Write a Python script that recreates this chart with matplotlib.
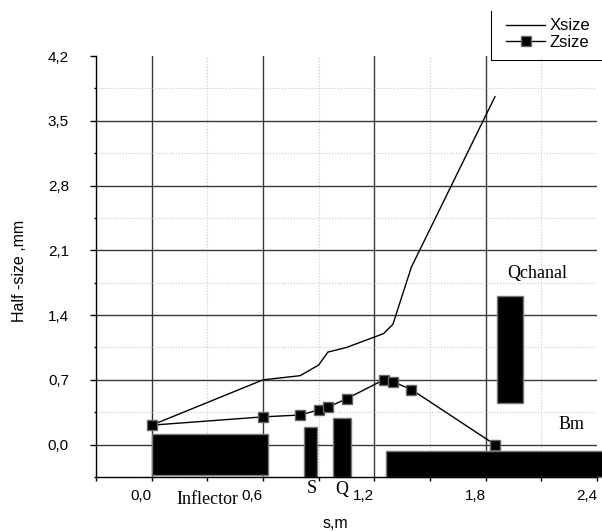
"""
Half-size of the beam along the channel with element layout
"""

import matplotlib.pyplot as plt
from matplotlib.lines import Line2D
from matplotlib.ticker import FixedLocator, FuncFormatter

# beam envelope
s = [0.0, 0.6, 0.8, 0.9, 0.95, 1.05, 1.25, 1.3, 1.4, 1.85]
x_size = [0.21, 0.70, 0.745, 0.86, 1.0, 1.05, 1.2, 1.3, 1.92, 3.76]
z_size = [0.21, 0.30, 0.32, 0.375, 0.405, 0.495, 0.70, 0.68, 0.595, 0.0]

# channel elements: name, s start, s end, bottom, top
elem_names = ['Inflector', 'S', 'Q', 'Bm', 'Qchanal']
elem_s0 = [0.0, 0.82, 0.977, 1.265, 1.862]
elem_s1 = [0.625, 0.89, 1.075, 2.43, 2.0]
elem_bot = [-0.33, -0.345, -0.345, -0.355, 0.452]
elem_top = [0.115, 0.195, 0.29, -0.07, 1.61]

# where the element names stand
label_s = [0.303, 0.862, 1.022, 2.26, 2.076]
label_h = [-0.588, -0.47, -0.48, 0.219, 1.85]

x_major = [0.0, 0.6, 1.2, 1.8, 2.4]
x_minor = [-0.3, 0.3, 0.9, 1.5, 2.1]
y_major = [0.0, 0.7, 1.4, 2.1, 2.8, 3.5, 4.2]
y_minor = [-0.35, 0.35, 1.05, 1.75, 2.45, 3.15, 3.85]

SANS = 'Liberation Sans'
SERIF = 'Liberation Serif'


def comma(v, pos=None):
    return f'{v:.1f}'.replace('.', ',')


fig = plt.figure(figsize=(6.02, 5.31), dpi=100)
ax = fig.add_axes([96 / 602, 1 - 477 / 531, 501 / 602, 421 / 531])

ax.set_xlim(-0.3, 2.4)
ax.set_ylim(-0.35, 4.2)

for name, a, b, lo, hi in zip(elem_names, elem_s0, elem_s1, elem_bot, elem_top):
    ax.bar(a, hi - lo, width=b - a, bottom=lo, align='edge', color='black',
           edgecolor='#777777', linewidth=1.0, zorder=2, clip_on=False)

for name, xs, ys in zip(elem_names, label_s, label_h):
    ax.text(xs, ys, name, family=SERIF, fontsize=13, ha='center', va='center',
            clip_on=False)

ax.plot(s, x_size, color='black', lw=1.0, label='Xsize', zorder=3)
ax.plot(s, z_size, color='black', lw=1.0, marker='s', markersize=7,
        markerfacecolor='black', markeredgecolor='#666666', label='Zsize', zorder=3)

ax.xaxis.set_major_locator(FixedLocator(x_major))
ax.xaxis.set_minor_locator(FixedLocator(x_minor))
ax.yaxis.set_major_locator(FixedLocator(y_major))
ax.yaxis.set_minor_locator(FixedLocator(y_minor))
ax.xaxis.set_major_formatter(FuncFormatter(comma))
ax.yaxis.set_major_formatter(FuncFormatter(comma))

ax.set_axisbelow(True)
ax.grid(which='major', color='#383838', lw=1.0, ls='-')
ax.grid(which='minor', color='#c8c8c8', lw=0.8, ls=':')
# no grid line along the top and right edge
ax.yaxis.get_major_ticks()[-1].gridline.set_visible(False)
ax.xaxis.get_major_ticks()[-1].gridline.set_visible(False)

for side in ['top', 'right']:
    ax.spines[side].set_visible(False)
for side in ['left', 'bottom']:
    ax.spines[side].set_color('black')
    ax.spines[side].set_linewidth(1.0)

ax.tick_params(axis='y', which='major', direction='out', length=4.5, width=1,
               pad=15, labelsize=11)
ax.tick_params(axis='y', which='minor', direction='out', length=1.5, width=1)
ax.tick_params(axis='x', which='both', direction='out', length=3, width=1,
               pad=6, labelsize=11)
for lab in ax.get_xticklabels() + ax.get_yticklabels():
    lab.set_family(SANS)
for lab in ax.get_xticklabels():
    lab.set_ha('right')

ax.set_ylabel('Half -size ,mm', family=SANS, fontsize=11.5)
ax.yaxis.set_label_coords(-0.138, 0.49)
ax.set_xlabel('s,m', family=SANS, fontsize=11.5)
ax.xaxis.set_label_coords(0.477, -0.093)

leg = ax.legend(loc='upper left', bbox_to_anchor=(493 / 602, 1 - 5 / 531),
                bbox_transform=fig.transFigure, frameon=False,
                prop={'family': SANS, 'size': 12}, handlelength=2.3,
                handletextpad=0.3, labelspacing=0.1, borderpad=0.3)

# only left and bottom edge of the legend box are inside the picture
fig.add_artist(Line2D([490.5 / 602, 490.5 / 602], [1 - 11 / 531, 1 - 59.5 / 531],
                      transform=fig.transFigure, color='black', lw=0.75))
fig.add_artist(Line2D([490.5 / 602, 1.0], [1 - 59.5 / 531, 1 - 59.5 / 531],
                      transform=fig.transFigure, color='black', lw=0.75))

fig.savefig('out.png', dpi=100)
